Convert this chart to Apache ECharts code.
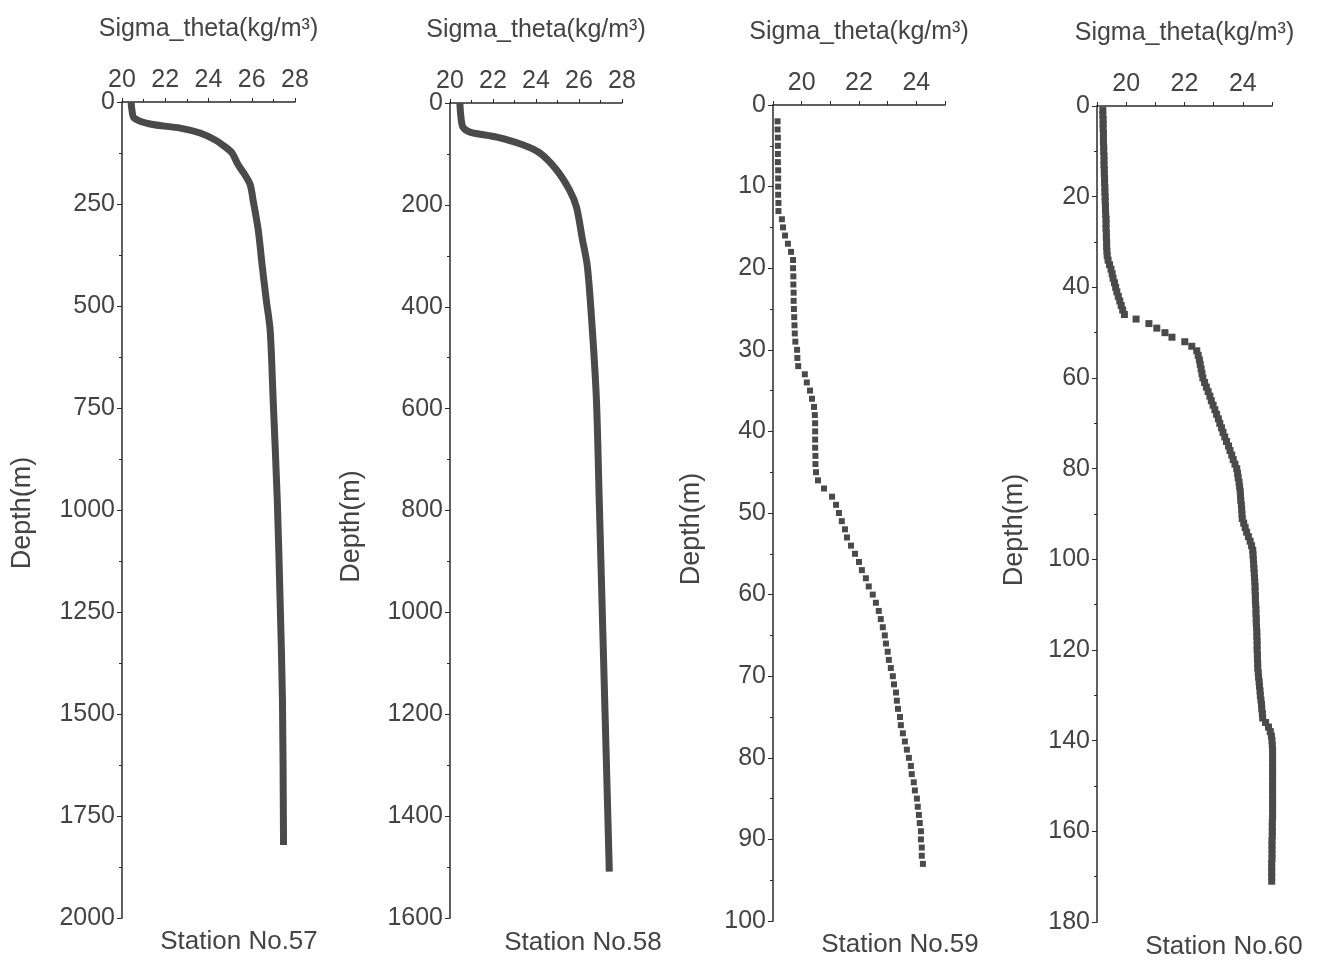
<!DOCTYPE html>
<html>
<head>
<meta charset="utf-8">
<script src="https://cdn.jsdelivr.net/npm/echarts@6/dist/echarts.min.js"></script>
<style>
  html, body { margin: 0; padding: 0; background: #fff; }
  #chart { width: 1320px; height: 964px; }
</style>
</head>
<body>
<div id="chart"></div>
<script>
// station 57
const depth57 = [0, 20, 39, 54, 64, 76, 93, 110, 125, 154, 179, 203, 240, 314, 400, 485, 559, 730, 975, 1220, 1466, 1821];
const sigma57 = [20.42, 20.46, 20.56, 21.3, 22.69, 23.61, 24.31, 24.77, 25.09, 25.37, 25.69, 25.93, 26.06, 26.3, 26.48, 26.67, 26.85, 26.99, 27.18, 27.31, 27.42, 27.47];

// station 58
const depth58 = [0, 24, 47, 57, 67, 82, 98, 131, 171, 204, 268, 321, 445, 582, 778, 1072, 1288, 1509];
const sigma58 = [20.46, 20.5, 20.6, 20.93, 22.18, 23.38, 24.17, 24.95, 25.56, 25.88, 26.16, 26.39, 26.62, 26.81, 26.94, 27.13, 27.27, 27.41];

// station 59
const depth59 = [2, 3, 4, 5, 6, 7, 8, 9, 10, 11, 12, 13, 14, 15, 16, 17, 18, 19, 20, 21, 22, 23, 24, 25, 26, 27, 28, 29, 30,
  31, 32, 33, 34, 35, 36, 37, 38, 39, 40, 41, 42, 43, 44, 45, 46, 47, 48, 49, 50, 51, 52, 53, 54, 55, 56, 57, 58, 59, 60,
  61, 62, 63, 64, 65, 66, 67, 68, 69, 70, 71, 72, 73, 74, 75, 76, 77, 78, 79, 80, 81, 82, 83, 84, 85, 86, 87, 88, 89, 90,
  91, 92, 93];
const sigma59 = [19.16, 19.16, 19.17, 19.17, 19.17, 19.17, 19.18, 19.18, 19.18, 19.18, 19.19, 19.19, 19.31, 19.35, 19.42, 19.52, 19.63, 19.7, 19.7, 19.71, 19.71, 19.72, 19.72, 19.73, 19.74, 19.75, 19.76, 19.78, 19.84,
  19.85, 19.88, 20.11, 20.18, 20.29, 20.36, 20.43, 20.46, 20.47, 20.47, 20.47, 20.47, 20.48, 20.48, 20.5, 20.57, 20.78, 21.06, 21.2, 21.3, 21.4, 21.51, 21.58, 21.72, 21.86, 22.0, 22.1, 22.24, 22.34, 22.48,
  22.59, 22.69, 22.76, 22.83, 22.9, 22.94, 23.0, 23.04, 23.11, 23.18, 23.22, 23.29, 23.32, 23.36, 23.43, 23.46, 23.53, 23.6, 23.67, 23.74, 23.81, 23.84, 23.91, 23.95, 24.02, 24.05, 24.09, 24.12, 24.16, 24.16,
  24.19, 24.19, 24.23];

// station 60
const depth60 = [1, 2, 3, 4, 5, 6, 7, 8, 9, 10, 11, 12, 13, 14, 15, 16, 17, 18, 19, 20, 21, 22, 23, 24, 25, 26, 27, 28, 29, 30,
  31, 32, 33, 34, 35, 36, 37, 38, 39, 40, 41, 42, 43, 44, 45, 46, 47, 48, 49, 50, 51, 52, 53, 54, 55, 56, 57, 58, 59, 60,
  61, 62, 63, 64, 65, 66, 67, 68, 69, 70, 71, 72, 73, 74, 75, 76, 77, 78, 79, 80, 81, 82, 83, 84, 85, 86, 87, 88, 89, 90,
  91, 92, 93, 94, 95, 96, 97, 98, 99, 100, 101, 102, 103, 104, 105, 106, 107, 108, 109, 110, 111, 112, 113, 114, 115, 116, 117, 118, 119, 120,
  121, 122, 123, 124, 125, 126, 127, 128, 129, 130, 131, 132, 133, 134, 135, 136, 137, 138, 139, 140, 141, 142, 143, 144, 145, 146, 147, 148, 149, 150,
  151, 152, 153, 154, 155, 156, 157, 158, 159, 160, 161, 162, 163, 164, 165, 166, 167, 168, 169, 170, 171];
const sigma60 = [19.2, 19.2, 19.21, 19.21, 19.21, 19.22, 19.22, 19.22, 19.23, 19.23, 19.24, 19.24, 19.24, 19.25, 19.25, 19.26, 19.26, 19.27, 19.27, 19.28, 19.28, 19.29, 19.29, 19.3, 19.31, 19.31, 19.31, 19.32, 19.32, 19.33,
  19.33, 19.34, 19.35, 19.38, 19.43, 19.48, 19.52, 19.55, 19.6, 19.64, 19.68, 19.73, 19.78, 19.83, 19.88, 19.94, 20.34, 20.78, 21.05, 21.33, 21.57, 22.01, 22.25, 22.42, 22.47, 22.51, 22.54, 22.57, 22.6, 22.63,
  22.69, 22.75, 22.81, 22.87, 22.92, 22.98, 23.04, 23.1, 23.16, 23.21, 23.27, 23.32, 23.38, 23.44, 23.51, 23.56, 23.62, 23.67, 23.73, 23.79, 23.82, 23.84, 23.87, 23.89, 23.91, 23.92, 23.93, 23.95, 23.96, 23.97,
  23.98, 24.03, 24.08, 24.13, 24.19, 24.25, 24.3, 24.34, 24.35, 24.36, 24.37, 24.38, 24.39, 24.4, 24.41, 24.42, 24.42, 24.43, 24.43, 24.44, 24.45, 24.45, 24.46, 24.46, 24.47, 24.48, 24.48, 24.49, 24.49, 24.49,
  24.5, 24.5, 24.51, 24.51, 24.53, 24.54, 24.56, 24.57, 24.59, 24.6, 24.62, 24.64, 24.65, 24.67, 24.68, 24.78, 24.88, 24.94, 24.98, 25.0, 25.01, 25.02, 25.02, 25.02, 25.02, 25.02, 25.02, 25.02, 25.02, 25.02,
  25.02, 25.02, 25.02, 25.02, 25.02, 25.02, 25.02, 25.01, 25.01, 25.01, 25.01, 25.0, 25.0, 25.0, 25.0, 25.0, 24.99, 24.99, 24.99, 24.99, 24.99];

const stations = ['Station No.57', 'Station No.58', 'Station No.59', 'Station No.60'];
const xName = 'Sigma_theta(kg/m³)';
const yName = 'Depth(m)';

const textColor = '#444';
const lineColor = '#2b2b2b';
const markColor = '#4a4a4a';
const font = 'Liberation Sans, Arial, sans-serif';

function pairs(sigma, depth) {
    return sigma.map((s, i) => [s, depth[i]]);
}

function evenOnly(v) {
    return v % 2 === 0 ? String(v) : '';
}

function plain(v) {
    return String(v);
}

function makeX(idx, min, max, interval, formatter) {
    return {
        gridIndex: idx,
        type: 'value',
        position: 'top',
        min: min,
        max: max,
        interval: interval,
        name: xName,
        nameLocation: 'middle',
        nameGap: 60,
        nameTextStyle: { fontSize: 25, color: textColor, fontFamily: font },
        axisLine: { show: true, onZero: false, lineStyle: { color: lineColor, width: 1.5 } },
        axisTick: { show: true, length: 4, lineStyle: { color: lineColor } },
        minorTick: { show: interval === 2, splitNumber: 2, length: 3, lineStyle: { color: lineColor } },
        splitLine: { show: false },
        axisLabel: { fontSize: 25, color: textColor, fontFamily: font, margin: 9, formatter: formatter || plain }
    };
}

// shift: pushes the rotated name down along the axis
function makeY(idx, max, interval, gap, shift) {
    return {
        gridIndex: idx,
        type: 'value',
        inverse: true,
        min: 0,
        max: max,
        interval: interval,
        name: yName,
        nameLocation: 'middle',
        nameRotate: 90,
        nameGap: gap,
        nameTextStyle: { fontSize: 27, color: textColor, fontFamily: font, padding: [0, shift, 0, 0] },
        axisLine: { show: true, onZero: false, lineStyle: { color: lineColor, width: 1.5 } },
        axisTick: { show: true, length: 5, lineStyle: { color: lineColor } },
        minorTick: { show: true, splitNumber: 2, length: 3, lineStyle: { color: lineColor } },
        splitLine: { show: false },
        axisLabel: { fontSize: 25, color: textColor, fontFamily: font, margin: 7, formatter: plain }
    };
}

const chart = echarts.init(document.getElementById('chart'), null, { renderer: 'canvas' });

const option = {
    backgroundColor: '#fff',
    animation: false,
    title: [
        { text: stations[0], left: 239, top: 929 },
        { text: stations[1], left: 583, top: 930 },
        { text: stations[2], left: 900, top: 932 },
        { text: stations[3], left: 1224, top: 934 }
    ].map(t => Object.assign(t, {
        textAlign: 'center',
        padding: 0,
        textStyle: { fontSize: 26, fontWeight: 'normal', color: textColor, fontFamily: font }
    })),
    grid: [
        { left: 122, top: 102, width: 173, height: 816, outerBoundsMode: 'none' },
        { left: 450, top: 103, width: 172, height: 815, outerBoundsMode: 'none' },
        { left: 773, top: 105, width: 172, height: 816, outerBoundsMode: 'none' },
        { left: 1097, top: 106, width: 175, height: 816, outerBoundsMode: 'none' }
    ],
    xAxis: [
        makeX(0, 20, 28, 2),
        makeX(1, 20, 28, 2),
        makeX(2, 19, 25, 1, evenOnly),
        makeX(3, 19, 25, 1, evenOnly)
    ],
    yAxis: [
        makeY(0, 2000, 250, 86, 6),
        makeY(1, 1600, 200, 85, 32),
        makeY(2, 100, 10, 68, 32),
        makeY(3, 180, 20, 69, 32)
    ],
    series: [
        {
            type: 'line',
            xAxisIndex: 0,
            yAxisIndex: 0,
            data: pairs(sigma57, depth57),
            showSymbol: false,
            smooth: 0.3,
            lineStyle: { color: markColor, width: 7, join: 'round', cap: 'butt' }
        },
        {
            type: 'line',
            xAxisIndex: 1,
            yAxisIndex: 1,
            data: pairs(sigma58, depth58),
            showSymbol: false,
            smooth: 0.3,
            lineStyle: { color: markColor, width: 7, join: 'round', cap: 'butt' }
        },
        {
            type: 'scatter',
            xAxisIndex: 2,
            yAxisIndex: 2,
            data: pairs(sigma59, depth59),
            symbol: 'rect',
            symbolSize: 6,
            clip: false,
            itemStyle: { color: markColor, opacity: 1 }
        },
        {
            type: 'scatter',
            xAxisIndex: 3,
            yAxisIndex: 3,
            data: pairs(sigma60, depth60),
            symbol: 'rect',
            symbolSize: 7,
            clip: false,
            itemStyle: { color: markColor, opacity: 1 }
        }
    ]
};

chart.setOption(option);
</script>
</body>
</html>
